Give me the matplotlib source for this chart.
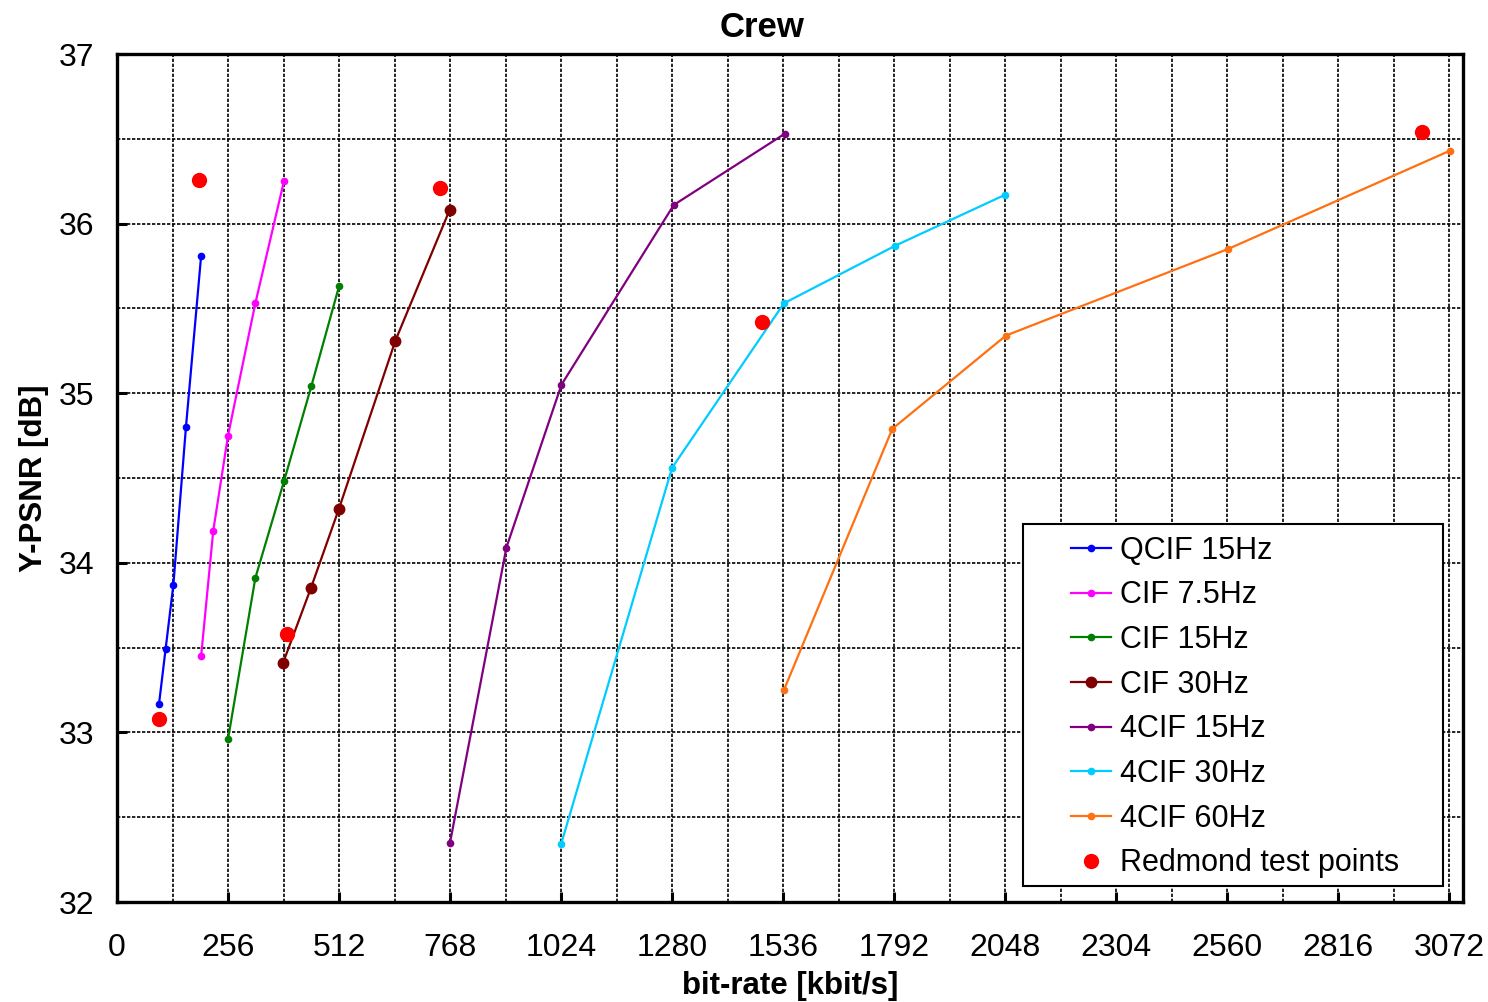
import matplotlib
matplotlib.use("Agg")
import matplotlib.pyplot as plt
from matplotlib.ticker import MultipleLocator
from matplotlib.patches import Rectangle

plt.rcParams['font.family'] = ['Liberation Sans', 'DejaVu Sans']

qcif15_x = [97, 112, 130, 159, 194]
qcif15_y = [33.17, 33.49, 33.87, 34.80, 35.81]
cif75_x = [194, 222, 256, 319, 385]
cif75_y = [33.45, 34.19, 34.75, 35.53, 36.25]
cif15_x = [256, 319, 385, 448, 512]
cif15_y = [32.96, 33.91, 34.48, 35.04, 35.63]
cif30_x = [383, 447, 512, 642, 767]
cif30_y = [33.41, 33.85, 34.32, 35.31, 36.08]
cif4_15_x = [768, 898, 1025, 1284, 1540]
cif4_15_y = [32.35, 34.09, 35.05, 36.11, 36.53]
cif4_30_x = [1024, 1280, 1538, 1795, 2048]
cif4_30_y = [32.34, 34.56, 35.53, 35.87, 36.17]
cif4_60_x = [1538, 1788, 2050, 2562, 3074]
cif4_60_y = [33.25, 34.79, 35.34, 35.85, 36.43]
redmond_x = [97, 189, 392, 746, 1487, 3010]
redmond_y = [33.08, 36.26, 33.58, 36.21, 35.42, 36.54]

labels = ["QCIF 15Hz", "CIF 7.5Hz", "CIF 15Hz", "CIF 30Hz",
          "4CIF 15Hz", "4CIF 30Hz", "4CIF 60Hz", "Redmond test points"]
colors = ["#0000FF", "#FF00FF", "#008000", "#800000",
          "#800080", "#00CCFF", "#FF7010", "#FF0000"]
xticks = [0, 256, 512, 768, 1024, 1280, 1536, 1792, 2048, 2304, 2560, 2816, 3072]

fig = plt.figure(figsize=(14.88, 10.02), dpi=100)
ax = fig.add_axes([117/1488, 1-902/1002, (1463-117)/1488, (902-54)/1002])

series = [(qcif15_x, qcif15_y, 4.5), (cif75_x, cif75_y, 4.5), (cif15_x, cif15_y, 4.5),
          (cif30_x, cif30_y, 7.5), (cif4_15_x, cif4_15_y, 4.5), (cif4_30_x, cif4_30_y, 4.5),
          (cif4_60_x, cif4_60_y, 4.5)]
for (xs, ys, ms), lab, c in zip(series, labels[:7], colors[:7]):
    ax.plot(xs, ys, '-o', color=c, lw=1.6, ms=ms, label=lab, zorder=3)
ax.plot(redmond_x, redmond_y, 'o', color=colors[7], ms=10, ls='none',
        label=labels[7], zorder=4)

ax.set_xlim(0, 3104)
ax.set_ylim(32, 37)
ax.set_xticks(xticks)
ax.xaxis.set_minor_locator(MultipleLocator(128))
ax.yaxis.set_major_locator(MultipleLocator(1))
ax.yaxis.set_minor_locator(MultipleLocator(0.5))
ax.grid(True, which='both', color='black', lw=1.2, ls=(0, (2, 1)), zorder=1)
ax.set_axisbelow(True)
ax.tick_params(which='major', direction='in', length=7, width=2.2,
               labelsize=23, pad=22)
ax.tick_params(which='minor', length=0)
ax.tick_params(axis='y', pad=16)
for s in ax.spines.values():
    s.set_linewidth(2.4)

ax.set_title("Crew", fontsize=25, fontweight='bold', pad=12, x=(762-117)/1346)
ax.set_xlabel("bit-rate [kbit/s]", fontsize=22.5, fontweight='bold', labelpad=6)
ax.set_ylabel("Y-PSNR [dB]", fontsize=22.5, fontweight='bold', labelpad=7)

# legend frame
ax.add_patch(Rectangle((0.6731, 0.0189), 0.9851-0.6731, 0.4458-0.0189,
                       transform=ax.transAxes, facecolor='white',
                       edgecolor='black', lw=1.5, zorder=5))
leg = ax.legend(loc='upper left', bbox_to_anchor=(0.7088, 0.4320),
                fontsize=22, frameon=False, borderpad=0, labelspacing=0.48,
                handlelength=1.3, handletextpad=0.3, borderaxespad=0)
leg.set_zorder(6)

fig.savefig("out.png", dpi=100)
